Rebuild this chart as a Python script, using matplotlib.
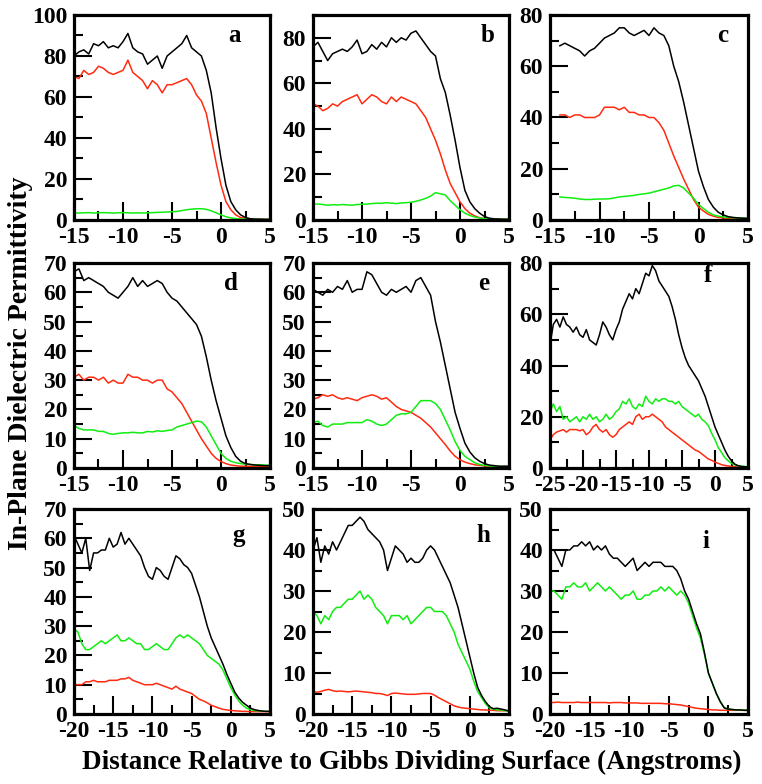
import numpy as np
import matplotlib
matplotlib.use('Agg')
import matplotlib.pyplot as plt
from matplotlib.ticker import MultipleLocator

plt.rcParams['font.family'] = ['Liberation Serif', 'DejaVu Serif']
plt.rcParams['font.weight'] = 'bold'
plt.rcParams['axes.unicode_minus'] = False

RED = '#ff2a10'
GREEN = '#10ee10'
STEP = 0.5

# ---- panel a (x from -15, step 0.5)
a_black = [80, 82, 83, 81, 86, 85, 87, 84, 85, 84, 87, 91, 84, 82, 81, 76, 78, 80, 74, 80,
           82, 84, 86, 90, 84, 82, 80, 73, 62, 45, 30, 17, 9, 5, 2.5, 1.2, 0.6, 0.4, 0.4, 0.3, 0.3]
a_red = [70, 69, 73, 71, 72, 75, 74, 72, 71, 72, 73, 78, 72, 70, 68, 64, 68, 66, 62, 66,
         66, 67, 68, 69, 66, 61, 58, 52, 40, 28, 17, 9, 5, 2.5, 1.2, 0.8, 0.5, 0.4, 0.3, 0.3, 0.3]
a_green = [3.5, 3.4, 3.5, 3.6, 3.4, 3.5, 3.6, 3.5, 3.4, 3.5, 3.6, 3.5, 3.4, 3.5, 3.4, 3.5, 3.6, 3.7, 3.8, 3.9,
           4.0, 4.2, 4.6, 5.0, 5.3, 5.5, 5.5, 5.2, 4.5, 3.5, 2.5, 1.6, 1.0, 0.7, 0.5, 0.4, 0.35, 0.3, 0.3, 0.3, 0.3]

# ---- panel b (x from -15)
b_black = [76, 78, 74, 70, 73, 74, 75, 74, 76, 79, 73, 74, 77, 75, 78, 76, 80, 78, 80, 79,
           82, 83, 80, 77, 74, 72, 62, 56, 46, 35, 23, 13, 8, 5, 3, 1.5, 0.8, 0.5, 0.4, 0.3, 0.3]
b_red = [51, 50, 48, 49, 51, 50, 52, 53, 54, 55, 51, 53, 55, 54, 52, 51, 54, 52, 54, 53,
         52, 51, 48, 45, 40, 35, 29, 22, 16, 12, 8, 5, 3, 1.8, 1.0, 0.6, 0.4, 0.4, 0.3, 0.3, 0.3]
b_green = [7, 7, 6.8, 6.5, 6.7, 6.6, 6.8, 6.6, 6.5, 6.8, 6.9, 7, 7.2, 7.4, 7.3, 7.6, 7.4, 7.2, 7.5, 7.6,
           7.8, 8.2, 8.8, 9.5, 10.5, 12, 11.5, 11, 8.5, 6.5, 4.5, 3, 2, 1.3, 0.9, 0.6, 0.5, 0.4, 0.4, 0.3, 0.3]

# ---- panel c (x from -14)
c_black = [68, 69, 68, 67, 66, 64, 66, 67, 69, 71, 72, 73, 75, 75, 73, 72, 73, 74, 72, 75,
           73, 72, 68, 60, 54, 46, 37, 28, 19, 13, 8, 5, 3, 2, 1.3, 1, 0.8, 0.7, 0.6]
c_red = [41, 41, 40, 41, 41, 40, 40, 40, 41, 44, 44, 44, 43, 44, 42, 42, 41, 41, 40, 40,
         38, 35, 30, 25, 20.5, 16, 12, 8, 5, 3.5, 2.2, 1.5, 1, 0.8, 0.6, 0.6, 0.6, 0.6, 0.6]
c_green = [9, 8.8, 8.7, 8.5, 8.2, 8.0, 8.0, 8.1, 8.2, 8.2, 8.3, 8.6, 9, 9.2, 9.4, 9.6, 10, 10.2, 10.5, 11,
           11.5, 12, 12.5, 13.3, 13.5, 12.5, 10.5, 8.5, 6, 4.5, 3, 2, 1.5, 1.2, 1, 0.9, 0.8, 0.7, 0.7]

# ---- panel d (x from -15)
d_black = [67, 68, 64, 65, 64, 63, 62, 60, 59, 58, 60, 62, 65, 62, 64, 62, 63, 64, 63, 60,
           58, 57, 55, 53, 51, 49, 45, 38, 30, 23, 17, 11, 7, 4, 2.3, 1.5, 1.2, 1.0, 0.9, 0.8, 0.8]
d_red = [31, 32, 30, 31, 31, 30, 31, 29, 30, 29, 29, 32, 31, 31, 30, 30, 29, 30, 30, 27,
         26, 24, 22, 19, 16, 13, 10, 7.5, 5, 3.3, 2.2, 1.5, 1, 0.8, 0.6, 0.6, 0.6, 0.6, 0.6, 0.6, 0.6]
d_green = [14.5, 13.5, 13, 13, 13, 12.5, 12.5, 11.8, 11.5, 11.8, 12, 12, 12.2, 12, 12, 12.5, 12.3, 12.7, 12.5, 12.8,
           13, 14, 14.5, 15, 15.5, 16, 15.8, 14, 11, 8, 5, 3.3, 2.3, 1.8, 1.5, 1.3, 1.2, 1.1, 1.1, 1.0, 1.0]

# ---- panel e (x from -15)
e_black = [61, 60, 59, 61, 60, 62, 61, 64, 60, 61, 61, 67, 66, 63, 60, 59, 61, 60, 61, 62,
           60, 64, 65, 62, 59, 50, 43, 35, 27, 19, 13.5, 8.5, 5.5, 3.5, 2.3, 1.5, 1.0, 0.8, 0.6, 0.6, 0.6]
e_red = [23.5, 24, 25, 24.5, 25, 24, 23.5, 24, 23.5, 23, 24, 24.5, 25, 24.5, 23.5, 24, 22.5, 21, 20, 19.5,
         19, 18, 17, 15.5, 14, 12, 10, 8, 5.8, 4, 2.8, 2, 1.5, 1.1, 0.9, 0.7, 0.6, 0.5, 0.5, 0.5, 0.5]
e_green = [15.5, 16, 14.5, 14, 15, 15, 15, 15.5, 15.5, 15.5, 15.5, 16.5, 16, 15, 14.5, 15, 16.5, 18, 18.5, 18.5,
           19, 21, 23, 23, 23, 22, 20, 16.5, 13, 9, 6, 4, 2.9, 1.8, 1.2, 0.9, 0.7, 0.6, 0.5, 0.5, 0.5]

# ---- panel f (x from -25)
f_black = [48, 56, 58, 55, 59, 56, 55, 53, 55, 52, 51, 54, 50, 49, 48, 52, 57, 55, 52, 50,
           54, 57, 62, 65, 68, 66, 70, 68, 72, 76, 75, 79, 77, 73, 71, 69, 67, 63, 58, 52,
           47, 43, 40, 38, 36, 34, 31, 28, 24, 20, 16, 13, 10, 7, 4.6, 2.8, 1.5, 0.9, 0.6, 0.5, 0.4]
f_red = [11, 13, 14, 14.5, 15, 14, 15, 15, 15, 14.5, 15, 13, 14, 16, 17, 15, 14, 15, 13, 12,
         13, 15, 16, 17, 18, 17, 20, 21, 19, 20, 20, 21, 20, 19, 18, 16, 15, 14, 13, 12,
         11, 10, 9, 8, 7, 6.5, 5.5, 4.5, 3.5, 3, 2.3, 1.8, 1.3, 1, 0.8, 0.6, 0.5, 0.4, 0.4, 0.4, 0.4]
f_green = [22, 25, 22, 24, 19, 20, 18, 19, 20, 18, 20, 19, 21, 19, 20, 18, 19, 21, 19, 20,
           22, 23, 26, 25, 27, 24, 23, 25, 24, 28, 26, 25, 27, 26, 27, 27, 26, 26, 25, 26,
           24, 23, 22, 21, 20, 21, 19, 18, 16.5, 13.5, 11, 8, 6, 4, 2.8, 1.8, 1.2, 0.9, 0.7, 0.6, 0.5]

# ---- panel g (x from -20)
g_black = [61, 58, 55, 60, 49, 55, 55, 56, 56, 60, 57, 58, 62, 58, 60, 58, 56, 54, 50, 47,
           46, 50, 49, 47, 46, 50, 54, 53, 51, 50, 48, 44, 40, 35, 30, 26, 23, 20, 17, 13.5,
           10.5, 7.5, 5.5, 4, 3, 2, 1.5, 1.2, 1, 0.9, 0.9]
g_red = [10, 10, 10, 11, 11, 11.5, 11, 11, 11, 11.5, 11.5, 11.5, 12, 12, 12.5, 11.5, 11, 10.5, 10, 10,
         10, 10.5, 10, 9.5, 9, 8.5, 9.5, 8.5, 8, 7.5, 7, 6, 5, 4.5, 3.8, 3, 2.5, 2, 1.6, 1.4,
         1.2, 1.1, 1, 0.9, 0.9, 0.8, 0.8, 0.8, 0.8, 0.8, 0.8]
g_green = [29, 28, 24, 22, 22, 23, 24, 25, 24, 25, 26, 27, 25, 25, 26, 25, 24, 24, 22, 22,
           23, 24, 23, 22, 22, 24, 26, 27, 26, 27, 26, 25, 24, 22, 20, 19, 18, 17, 15, 12,
           9, 6.5, 4.5, 3, 2, 1.5, 1.2, 1.1, 1, 0.9, 0.9]

# ---- panel h (x from -20)
h_black = [40, 43, 37, 41, 39, 42, 40, 42, 44, 46, 46, 47, 48, 47, 45, 44, 43, 42, 40, 35,
           38, 41, 40, 39, 37, 38, 37, 37, 38, 40, 41, 40, 38, 36, 34, 32, 29, 26, 22, 18,
           14, 10, 6.5, 4.5, 3, 1.8, 1.3, 1.4, 1.2, 1, 0.7]
h_red = [5.5, 5.3, 5.5, 5.8, 6, 5.7, 5.5, 5.6, 5.5, 5.4, 5.5, 5.6, 5.5, 5.4, 5.3, 5.2, 5, 5, 4.8, 4.5,
         5, 5.1, 5, 4.9, 4.8, 4.8, 4.8, 4.9, 5, 5, 5, 4.6, 4, 3.5, 3, 2.5, 2, 1.7, 1.5, 1.4,
         1.3, 1.2, 1.1, 1, 1, 0.9, 0.9, 0.8, 0.8, 0.8, 0.8]
h_green = [25, 24, 22, 24, 23, 25, 26, 26, 27, 28, 28, 29, 30, 28, 29, 28, 26, 25, 24, 22,
           24, 24, 24, 23, 24, 22, 23, 24, 25, 26, 26, 25, 25, 25, 24, 22, 20, 17, 15, 13,
           11, 8, 5.5, 4, 2.5, 1.5, 1.2, 1, 1, 0.8, 0.7]

# ---- panel i (x from -20)
i_black = [40, 40, 38, 36, 40, 40, 41, 41, 42, 41, 42, 40, 41, 40, 41, 39, 38, 38, 37, 36,
           37, 38, 35, 36, 37, 36, 37, 37, 37, 36, 36, 36, 35, 33, 30, 28, 25, 22, 19.5, 15,
           10, 7.5, 5, 3, 1.5, 1.2, 1.1, 1, 1, 0.9, 0.9]
i_red = [2.8, 2.8, 2.9, 2.8, 2.8, 2.8, 2.8, 2.9, 2.8, 2.8, 2.8, 2.8, 2.8, 2.8, 2.8, 2.7, 2.8, 2.8, 2.8, 2.7,
         2.7, 2.7, 2.7, 2.6, 2.6, 2.6, 2.6, 2.6, 2.6, 2.5, 2.5, 2.4, 2.3, 2.2, 2.0, 1.8, 1.6, 1.4, 1.3, 1.2,
         1.1, 1.0, 1.0, 0.9, 0.9, 0.9, 0.9, 0.9, 0.9, 0.9, 0.9]
i_green = [30, 30, 29, 28, 31, 31, 32, 31, 31, 32, 30, 31, 32, 31, 30, 31, 30, 29, 28, 29,
           29, 30, 28, 28, 29, 29, 30, 30, 31, 30, 31, 30, 29, 30, 29, 27, 24, 21, 18.5, 14.5,
           10, 7.5, 5, 3, 1.5, 1.2, 1.1, 1, 1, 0.9, 0.9]

# letter, x start, (black, red, green), xlim, ylim, y major, letter position
panels = [
    ('a', -15, (a_black, a_red, a_green), (-15, 5), (0, 100), 20, (0.82, 0.90)),
    ('b', -15, (b_black, b_red, b_green), (-15, 5), (0, 90), 20, (0.89, 0.90)),
    ('c', -14, (c_black, c_red, c_green), (-15, 5), (0, 80), 20, (0.87, 0.90)),
    ('d', -15, (d_black, d_red, d_green), (-15, 5), (0, 70), 10, (0.80, 0.90)),
    ('e', -15, (e_black, e_red, e_green), (-15, 5), (0, 70), 10, (0.87, 0.90)),
    ('f', -25, (f_black, f_red, f_green), (-25, 5), (0, 80), 20, (0.80, 0.94)),
    ('g', -20, (g_black, g_red, g_green), (-20, 5), (0, 70), 10, (0.84, 0.87)),
    ('h', -20, (h_black, h_red, h_green), (-20, 5), (0, 50), 10, (0.87, 0.87)),
    ('i', -20, (i_black, i_red, i_green), (-20, 5), (0, 50), 10, (0.79, 0.84)),
]

fig = plt.figure(figsize=(7.62, 7.84), dpi=100)

col_left = [74, 313, 550]
col_width = [196, 196, 198]
row_top = [15, 263, 509]
row_height = 205
W, H = 762, 784

for k, (letter, x0, series, xlim, ylim, ymaj, lpos) in enumerate(panels):
    r, c = divmod(k, 3)
    ax = fig.add_axes([col_left[c] / W, 1 - (row_top[r] + row_height) / H,
                       col_width[c] / W, row_height / H])
    for ys, col in zip((series[1], series[2], series[0]), (RED, GREEN, 'black')):
        x = x0 + STEP * np.arange(len(ys))
        ax.plot(x, ys, color=col, lw=1.1)
    ax.set_xlim(*xlim)
    ax.set_ylim(*ylim)
    ax.xaxis.set_major_locator(MultipleLocator(5))
    ax.xaxis.set_minor_locator(MultipleLocator(2.5))
    ax.yaxis.set_major_locator(MultipleLocator(ymaj))
    ax.yaxis.set_minor_locator(MultipleLocator(ymaj / 2))
    ax.tick_params(which='major', direction='in', length=13, width=1.5, labelsize=17, pad=5)
    ax.tick_params(which='minor', direction='in', length=6.5, width=1.5)
    for sp in ax.spines.values():
        sp.set_linewidth(2.3)
    for lab in ax.get_xticklabels() + ax.get_yticklabels():
        lab.set_fontweight('bold')
    ax.text(lpos[0], lpos[1], letter, transform=ax.transAxes, fontsize=18,
            fontweight='bold', ha='center', va='center')

fig.text(0.027, 0.537, 'In-Plane Dielectric Permittivity', rotation=90,
         ha='center', va='center', fontsize=20, fontweight='bold')
fig.text(0.540, 0.027, 'Distance Relative to Gibbs Dividing Surface (Angstroms)',
         ha='center', va='center', fontsize=19.5, fontweight='bold')

fig.savefig('out.png', dpi=100)
